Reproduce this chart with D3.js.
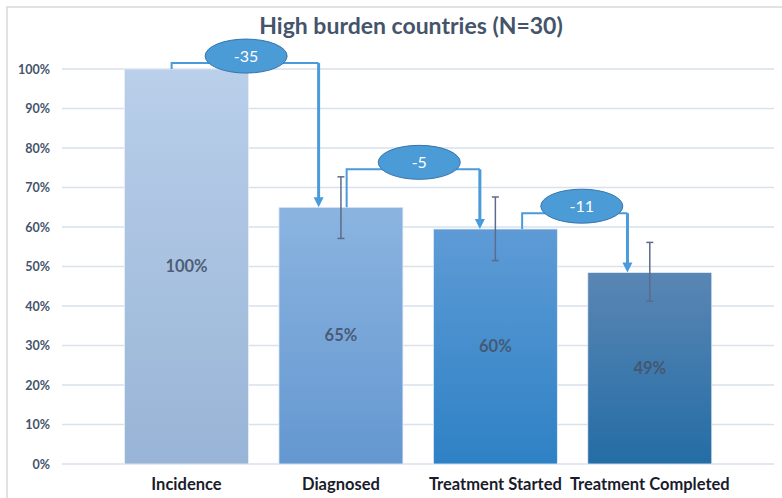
<!DOCTYPE html>
<html>
<head>
<meta charset="utf-8">
<script src="https://cdn.jsdelivr.net/npm/d3@7"></script>
<style>
  html, body { margin: 0; padding: 0; background: #fff; }
  svg { display: block; }
</style>
</head>
<body>
<svg id="chart" width="782" height="498"></svg>
<script>
// ---- data ----
const categories = ["Incidence", "Diagnosed", "Treatment Started", "Treatment Completed"];
const values = [100, 65, 59.5, 48.5];
const valueLabels = ["100%", "65%", "60%", "49%"];
const errLow = [null, 57.1, 51.5, 41.2];
const errHigh = [null, 72.7, 67.6, 56.1];
const yTicks = [0, 10, 20, 30, 40, 50, 60, 70, 80, 90, 100];
const changeLabels = ["-35", "-5", "-11"];
const changeFrom = [0, 1, 2];
const changeTo = [1, 2, 3];
const changeLevels = [101.5, 74.6, 63.5];
const titleText = "High burden countries (N=30)";

// ---- styles ----
const barTop = ["#b9cfea", "#8bb4e0", "#5e9bd6", "#5a86b4"];
const barBottom = ["#98b4d6", "#6497d0", "#2e81c5", "#246da5"];
const fromFrac = [0.38, 0.546, 0.716];
const toFrac = [0.32, 0.375, 0.32];
const ellShift = [1, 6, 7];
const textColor = "#44546a";
const connColor = "#4a9bdb";
const font = "Lato, 'Open Sans', sans-serif";

const svg = d3.select("#chart");

// chart border
svg.append("rect").attr("x", 7).attr("y", 7).attr("width", 800).attr("height", 600)
  .attr("fill", "none").attr("stroke", "#d9d9d9").attr("stroke-width", 1.5);

const x = d3.scaleBand().domain(categories).range([109.3, 727])
  .paddingInner(0.197).paddingOuter(0.0985);
const y = d3.scaleLinear().domain([0, 100]).range([464, 69]);

// gradients
const defs = svg.append("defs");
categories.forEach((c, i) => {
  const g = defs.append("linearGradient").attr("id", "g" + i)
    .attr("x1", 0).attr("y1", 0).attr("x2", 0).attr("y2", 1);
  g.append("stop").attr("offset", "0%").attr("stop-color", barTop[i]);
  g.append("stop").attr("offset", "100%").attr("stop-color", barBottom[i]);
});

// gridlines
svg.append("g").selectAll("line").data(yTicks).join("line")
  .attr("x1", 62).attr("x2", 774)
  .attr("y1", d => y(d)).attr("y2", d => y(d))
  .attr("stroke", "#d9e1ec").attr("stroke-width", 1.5);

// y axis
const yAxis = d3.axisLeft(y).tickValues(yTicks).tickFormat(d => d + "%").tickSize(0).tickPadding(0);
const yg = svg.append("g").attr("transform", "translate(50,0)").call(yAxis);
yg.select(".domain").remove();
yg.selectAll("text").attr("fill", textColor).attr("font-family", font)
  .attr("font-weight", "bold").attr("font-size", 12.5).attr("dy", "0.35em");

// bars
svg.append("g").selectAll("rect").data(categories).join("rect")
  .attr("x", d => x(d)).attr("width", x.bandwidth())
  .attr("y", (d, i) => y(values[i])).attr("height", (d, i) => y(0) - y(values[i]))
  .attr("fill", (d, i) => `url(#g${i})`)
  .attr("stroke", "#e8eef7").attr("stroke-width", 0.8);

// value labels
svg.append("g").selectAll("text").data(categories).join("text")
  .attr("x", d => x(d) + x.bandwidth() / 2)
  .attr("y", (d, i) => (y(values[i]) + y(0)) / 2)
  .attr("dy", "0.35em").attr("text-anchor", "middle")
  .attr("font-family", font).attr("font-weight", "bold").attr("font-size", 16.5)
  .attr("fill", textColor).attr("fill-opacity", 0.92)
  .text((d, i) => valueLabels[i]);

// error bars
const eg = svg.append("g").attr("stroke", "#5d6b8a").attr("stroke-width", 1.5);
categories.forEach((c, i) => {
  if (errLow[i] == null) return;
  const cx = x(c) + x.bandwidth() / 2;
  eg.append("line").attr("x1", cx).attr("x2", cx).attr("y1", y(errHigh[i])).attr("y2", y(errLow[i]));
  eg.append("line").attr("x1", cx - 3.5).attr("x2", cx + 3.5).attr("y1", y(errHigh[i])).attr("y2", y(errHigh[i]));
  eg.append("line").attr("x1", cx - 3.5).attr("x2", cx + 3.5).attr("y1", y(errLow[i])).attr("y2", y(errLow[i]));
});

// x labels
svg.append("g").selectAll("text").data(categories).join("text")
  .attr("x", d => x(d) + x.bandwidth() / 2).attr("y", 490)
  .attr("text-anchor", "middle").attr("font-family", font)
  .attr("font-weight", "bold").attr("font-size", 16.5).attr("fill", "#1a1c2c")
  .text(d => d);

// change connectors
const ag = svg.append("g");
changeLabels.forEach((lab, k) => {
  const fc = categories[changeFrom[k]], tc = categories[changeTo[k]];
  const x1 = x(fc) + x.bandwidth() * fromFrac[k];
  const x2 = x(tc) + x.bandwidth() * toFrac[k];
  const yl = y(changeLevels[k]);
  const yFrom = y(values[changeFrom[k]]);
  const yTo = y(values[changeTo[k]]);
  ag.append("path")
    .attr("d", `M${x1},${yFrom}V${yl}H${x2}`)
    .attr("fill", "none").attr("stroke", connColor).attr("stroke-width", 2);
  ag.append("line").attr("x1", x2).attr("x2", x2).attr("y1", yl).attr("y2", yTo - 8)
    .attr("stroke", connColor).attr("stroke-width", 3);
  ag.append("path")
    .attr("d", `M${x2 - 5},${yTo - 10}L${x2 + 5},${yTo - 10}L${x2},${yTo}Z`)
    .attr("fill", connColor);
  const ecx = (x1 + x2) / 2 + ellShift[k];
  const ecy = yl - 7;
  ag.append("ellipse").attr("cx", ecx).attr("cy", ecy).attr("rx", 41).attr("ry", 17)
    .attr("fill", "#4b9bd6").attr("stroke", "#3674ad").attr("stroke-width", 1);
  ag.append("text").attr("x", ecx).attr("y", ecy).attr("dy", "0.35em")
    .attr("text-anchor", "middle").attr("font-family", font).attr("font-size", 16)
    .attr("fill", "#ffffff").text(lab);
});

// title
svg.append("text").attr("x", 411).attr("y", 34).attr("text-anchor", "middle")
  .attr("font-family", font).attr("font-weight", "bold").attr("font-size", 23)
  .attr("fill", textColor).text(titleText);
</script>
</body>
</html>
